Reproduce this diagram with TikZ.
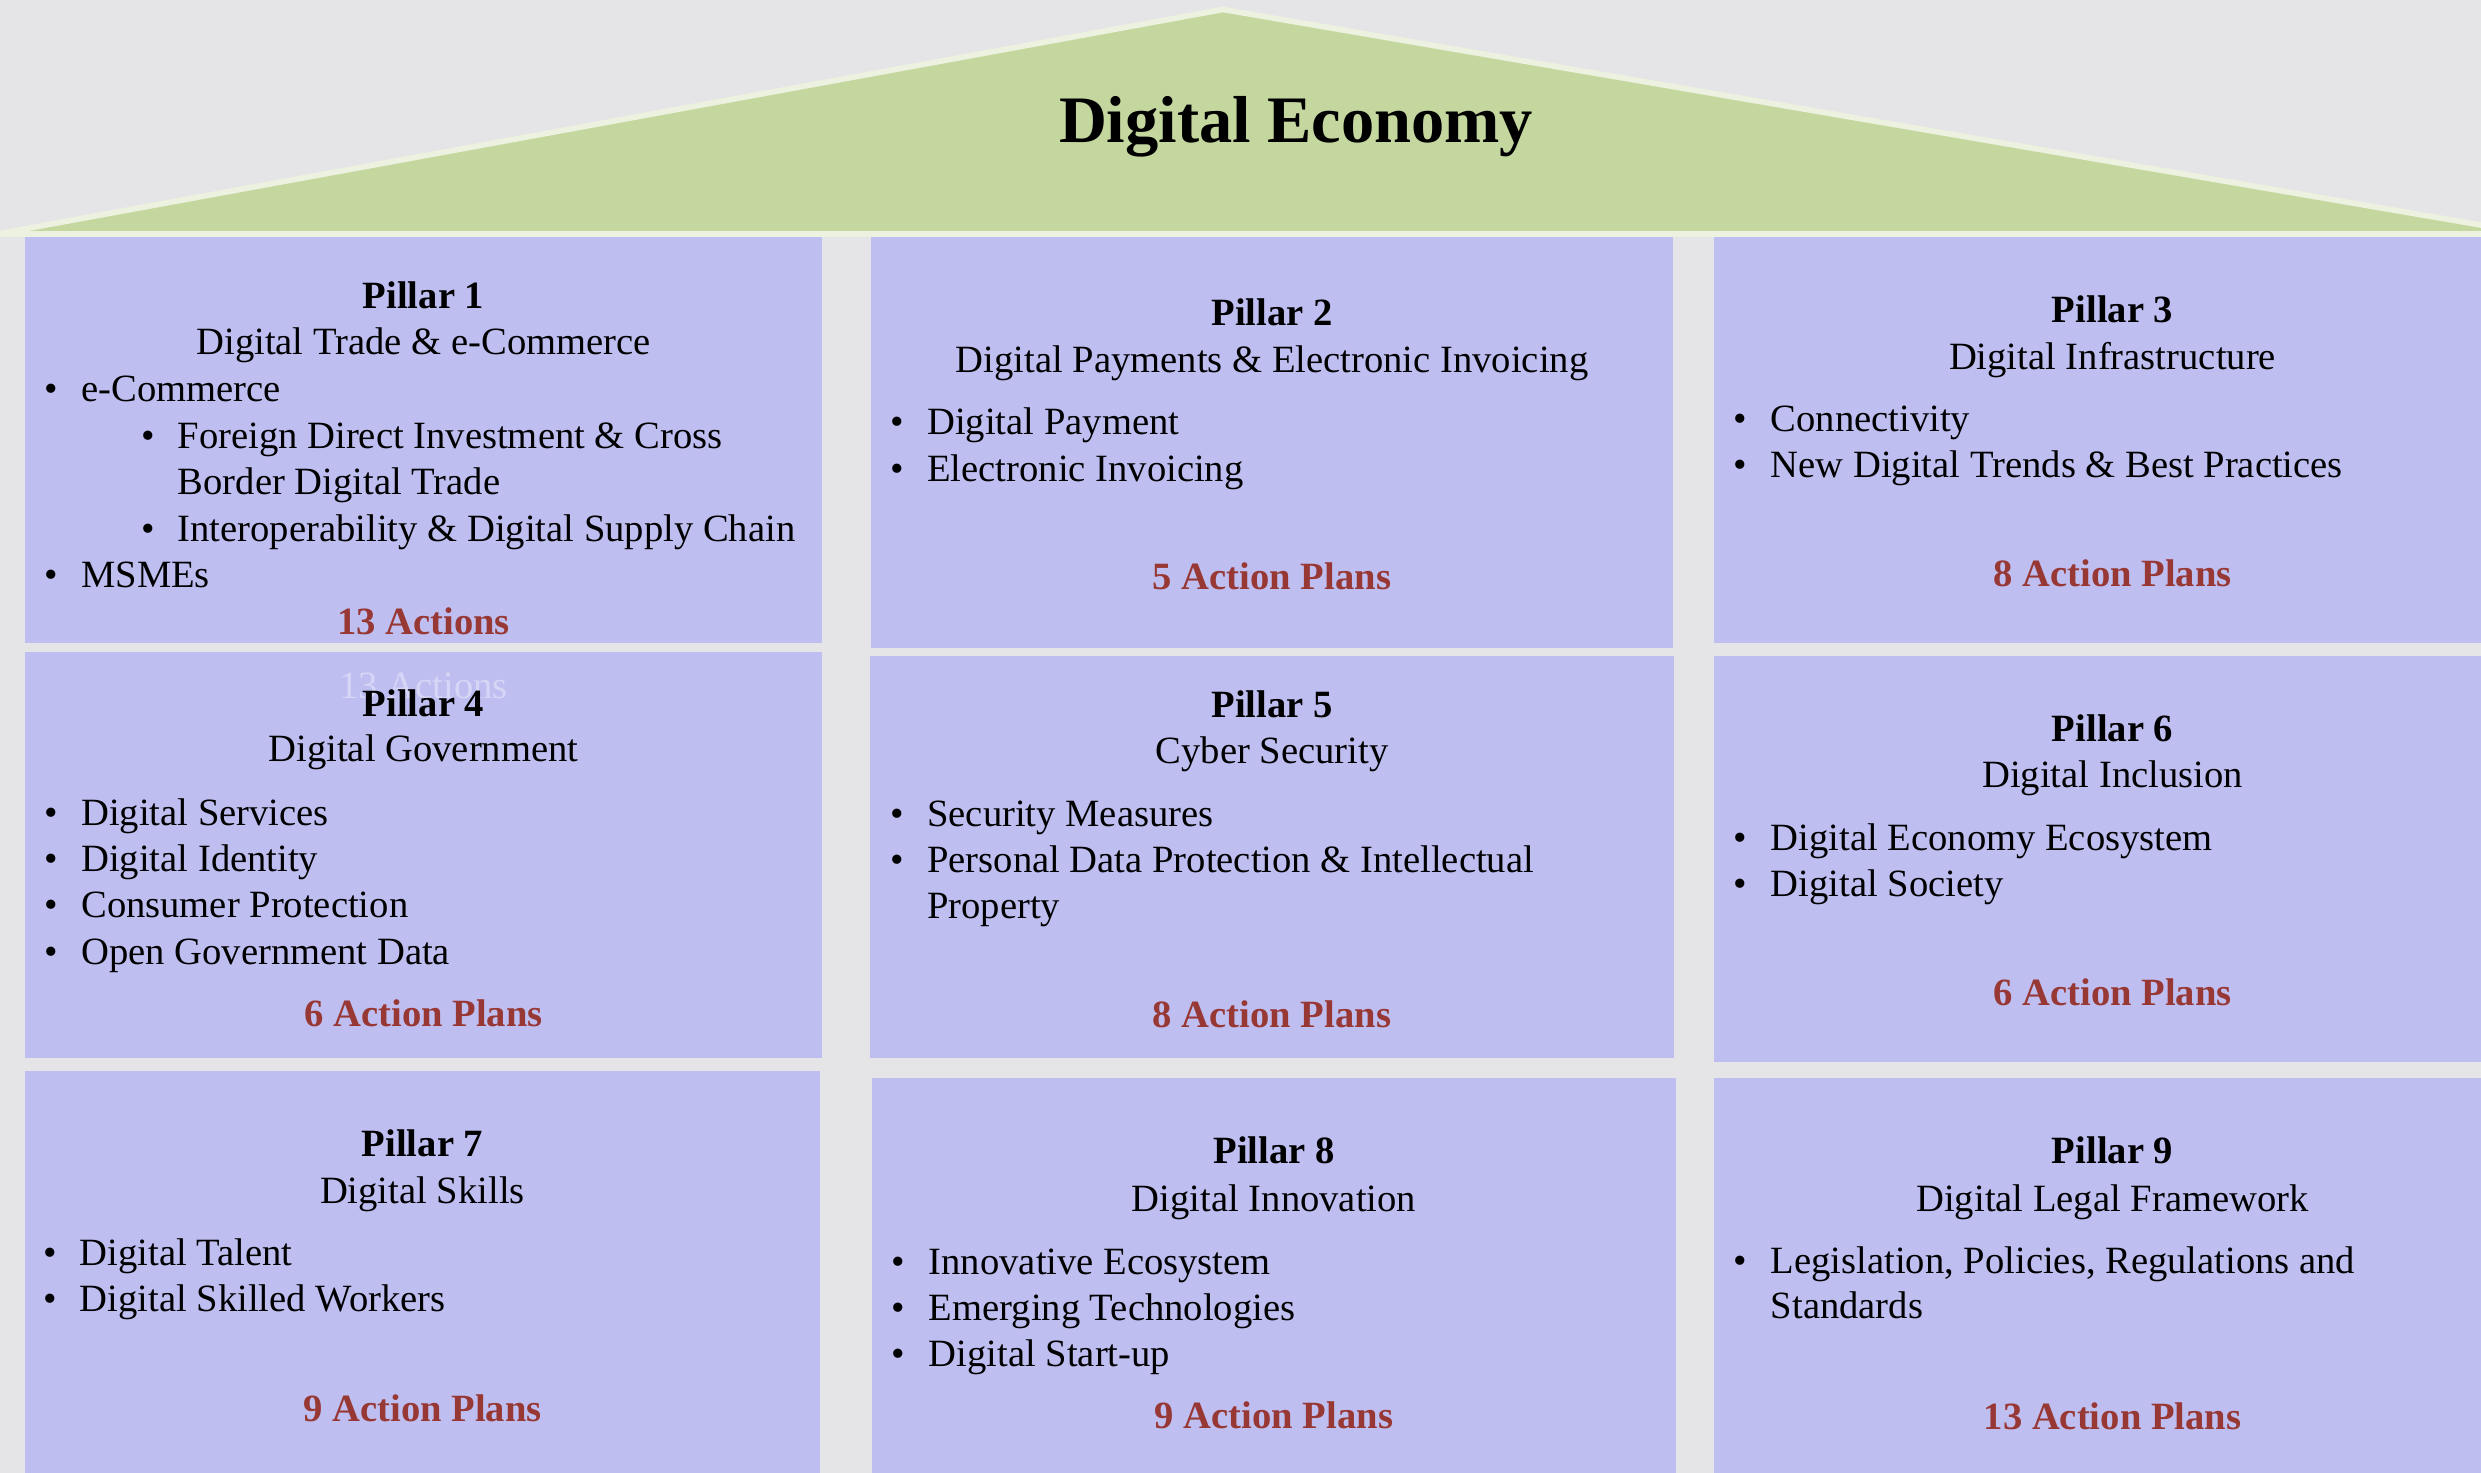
\documentclass[tikz,border=0pt]{standalone}
\usepackage{fontspec}
\setmainfont{Liberation Serif}
\definecolor{bgc}{RGB}{229,229,231}
\definecolor{boxc}{RGB}{190,190,241}
\definecolor{roofc}{RGB}{196,215,158}
\definecolor{roofline}{RGB}{236,242,223}
\definecolor{actc}{RGB}{152,56,52}
\definecolor{ghostc}{RGB}{214,214,246}
\newcommand\bodyf{\fontsize{9.65}{11.6}\selectfont}
\tikzset{
  pillarbox/.style={fill=boxc, draw=none},
  txt/.style={anchor=base, inner sep=0pt, font=\bodyf},
  hd/.style={txt, font=\bodyf\bfseries},
  act/.style={txt, font=\bodyf\bfseries, text=actc},
  ghost/.style={txt, font=\bodyf, text=ghostc},
  itm/.style={anchor=base west, inner sep=0pt, font=\bodyf},
  dotb/.style={anchor=base, inner sep=0pt, font=\bodyf},
}
\begin{document}
\begin{tikzpicture}[x=0.25pt, y=-0.25pt]
\useasboundingbox (0,0) rectangle (2481,1473);
\clip (0,0) rectangle (2481,1473);
\fill[bgc] (0,0) rectangle (2481,1473);
% roof
\draw[fill=roofc, draw=roofline, line width=1.4pt, line join=miter]
  (-3,234) -- (1223,9.5) -- (2533,234) -- cycle;
\node[anchor=base, inner sep=0pt, font=\fontsize{16.6}{20}\selectfont\bfseries] (title) at (1296,143) {Digital Economy};
% boxes
\fill[pillarbox] (25,237) rectangle (822,643);
\fill[pillarbox] (871,237) rectangle (1673,648);
\fill[pillarbox] (1714,237) rectangle (2511,643);
\fill[pillarbox] (25,652) rectangle (822,1058);
\fill[pillarbox] (870,656) rectangle (1674,1058);
\fill[pillarbox] (1714,656) rectangle (2511,1062);
\fill[pillarbox] (25,1071) rectangle (820,1480);
\fill[pillarbox] (872,1078) rectangle (1676,1480);
\fill[pillarbox] (1714,1078) rectangle (2511,1480);
\begin{scope}[yshift=-0.4pt]
% Pillar 1
\node[hd] (p1h) at (423.5,307) {Pillar 1};
\node[txt] (p1s) at (423.5,353.3) {Digital Trade \& e-Commerce};
\node[dotb] (p1b1) at (51.5,400) {•};
\node[itm] (p1i1) at (80.5,400) {e-Commerce};
\node[dotb] (p1b2) at (148,446.7) {•};
\node[itm] (p1i2) at (177,446.7) {Foreign Direct Investment \& Cross};
\node[itm] (p1i2b) at (177,492.7) {Border Digital Trade};
\node[dotb] (p1b3) at (148,540) {•};
\node[itm] (p1i3) at (177,540) {Interoperability \& Digital Supply Chain};
\node[dotb] (p1b4) at (51.5,586) {•};
\node[itm] (p1i4) at (80.5,586) {MSMEs};
\node[act] (p1a) at (423.5,632.7) {13 Actions};
% Pillar 2
\node[hd] (p2h) at (1272,324) {Pillar 2};
\node[txt] (p2s) at (1272,371) {Digital Payments \& Electronic Invoicing};
\node[dotb] (p2b1) at (897,433) {•};
\node[itm] (p2i1) at (926.5,433) {Digital Payment};
\node[dotb] (p2b2) at (897,480) {•};
\node[itm] (p2i2) at (926.5,480) {Electronic Invoicing};
\node[act] (p2a) at (1272,588) {5 Action Plans};
% Pillar 3
\node[hd] (p3h) at (2112.5,321) {Pillar 3};
\node[txt] (p3s) at (2112.5,368) {Digital Infrastructure};
\node[dotb] (p3b1) at (1740.5,430) {•};
\node[itm] (p3i1) at (1770,430) {Connectivity};
\node[dotb] (p3b2) at (1740.5,476) {•};
\node[itm] (p3i2) at (1770,476) {New Digital Trends \& Best Practices};
\node[act] (p3a) at (2112.5,585) {8 Action Plans};
% Pillar 4
\node[ghost] (p4g) at (423.5,696.7) {13 Actions};
\node[hd] (p4h) at (423.5,715) {Pillar 4};
\node[txt] (p4s) at (423.5,760) {Digital Government};
\node[dotb] (p4b1) at (51.5,824) {•};
\node[itm] (p4i1) at (80.5,824) {Digital Services};
\node[dotb] (p4b2) at (51.5,870) {•};
\node[itm] (p4i2) at (80.5,870) {Digital Identity};
\node[dotb] (p4b3) at (51.5,916) {•};
\node[itm] (p4i3) at (80.5,916) {Consumer Protection};
\node[dotb] (p4b4) at (51.5,963) {•};
\node[itm] (p4i4) at (80.5,963) {Open Government Data};
\node[act] (p4a) at (423.5,1025) {6 Action Plans};
% Pillar 5
\node[hd] (p5h) at (1272,716) {Pillar 5};
\node[txt] (p5s) at (1272,762) {Cyber Security};
\node[dotb] (p5b1) at (897,825) {•};
\node[itm] (p5i1) at (926.5,825) {Security Measures};
\node[dotb] (p5b2) at (897,871) {•};
\node[itm] (p5i2) at (926.5,871) {Personal Data Protection \& Intellectual};
\node[itm] (p5i2b) at (926.5,917) {Property};
\node[act] (p5a) at (1272,1026) {8 Action Plans};
% Pillar 6
\node[hd] (p6h) at (2112.5,740) {Pillar 6};
\node[txt] (p6s) at (2112.5,786) {Digital Inclusion};
\node[dotb] (p6b1) at (1740.5,849) {•};
\node[itm] (p6i1) at (1770,849) {Digital Economy Ecosystem};
\node[dotb] (p6b2) at (1740.5,895) {•};
\node[itm] (p6i2) at (1770,895) {Digital Society};
\node[act] (p6a) at (2112.5,1004) {6 Action Plans};
% Pillar 7
\node[hd] (p7h) at (422.5,1155) {Pillar 7};
\node[txt] (p7s) at (422.5,1202) {Digital Skills};
\node[dotb] (p7b1) at (50,1264) {•};
\node[itm] (p7i1) at (79,1264) {Digital Talent};
\node[dotb] (p7b2) at (50,1310) {•};
\node[itm] (p7i2) at (79,1310) {Digital Skilled Workers};
\node[act] (p7a) at (422.5,1420) {9 Action Plans};
% Pillar 8
\node[hd] (p8h) at (1274,1162) {Pillar 8};
\node[txt] (p8s) at (1274,1210) {Digital Innovation};
\node[dotb] (p8b1) at (898,1273) {•};
\node[itm] (p8i1) at (928,1273) {Innovative Ecosystem};
\node[dotb] (p8b2) at (898,1319) {•};
\node[itm] (p8i2) at (928,1319) {Emerging Technologies};
\node[dotb] (p8b3) at (898,1365) {•};
\node[itm] (p8i3) at (928,1365) {Digital Start-up};
\node[act] (p8a) at (1274,1427) {9 Action Plans};
% Pillar 9
\node[hd] (p9h) at (2112.5,1162) {Pillar 9};
\node[txt] (p9s) at (2112.5,1210) {Digital Legal Framework};
\node[dotb] (p9b1) at (1740.5,1272) {•};
\node[itm] (p9i1) at (1770,1272) {Legislation, Policies, Regulations and};
\node[itm] (p9i1b) at (1770,1317) {Standards};
\node[act] (p9a) at (2112.5,1428) {13 Action Plans};
\end{scope}
\end{tikzpicture}
\end{document}
